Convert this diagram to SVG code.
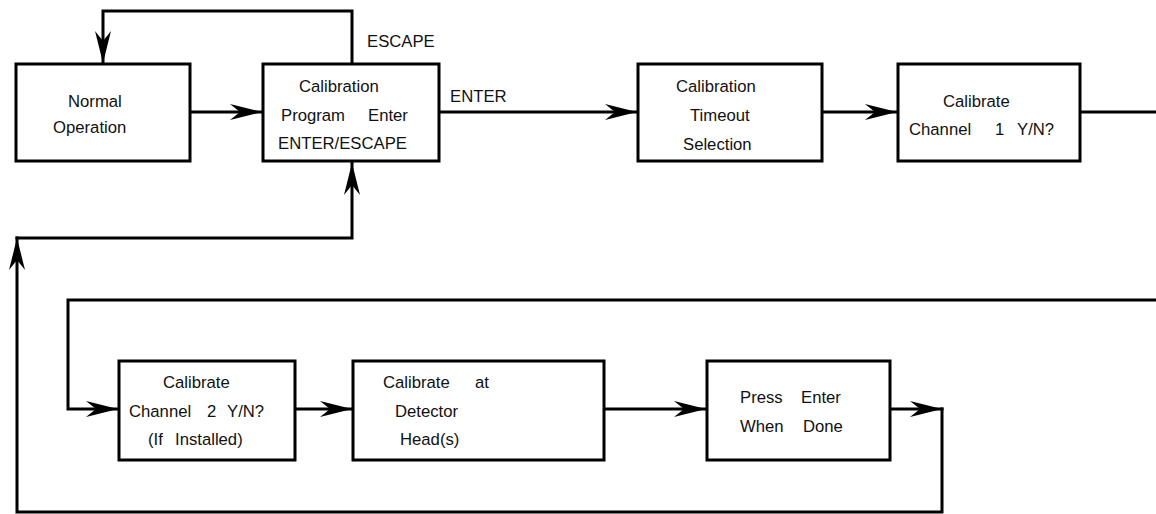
<svg xmlns="http://www.w3.org/2000/svg" width="1156" height="514" viewBox="0 0 1156 514">
<style>
.box{fill:#fff;stroke:#000;stroke-width:3}
.ln{fill:none;stroke:#000;stroke-width:3;stroke-linejoin:miter;stroke-linecap:square}
.t{font-family:"Liberation Sans",Arial,sans-serif;font-size:16.7px;fill:#111}
</style>
<defs>
<marker id="ah" markerUnits="userSpaceOnUse" viewBox="-34 -10 35 20" markerWidth="35" markerHeight="20" refX="0" refY="0" orient="auto">
<path d="M0,0 L-32,-8 L-22,0 L-32,8 Z" fill="#000"/>
</marker>
</defs>
<rect width="1156" height="514" fill="#fff"/>
<g id="connectors">
<path class="ln" d="M190,112 H262" marker-end="url(#ah)"/>
<path class="ln" d="M352,64 V11 H103 V63" marker-end="url(#ah)"/>
<path class="ln" d="M439,112 H637" marker-end="url(#ah)"/>
<path class="ln" d="M822,112 H897" marker-end="url(#ah)"/>
<path class="ln" d="M1080,112 H1158"/>
<path class="ln" d="M1158,300 H68 V409 H118" marker-end="url(#ah)"/>
<path class="ln" d="M295,409 H352" marker-end="url(#ah)"/>
<path class="ln" d="M604,409 H706" marker-end="url(#ah)"/>
<path class="ln" d="M890,409 H942" marker-end="url(#ah)"/>
<path class="ln" d="M942,409 V512 H17 V238" marker-end="url(#ah)"/>
<path class="ln" d="M17,238 H352 V163" marker-end="url(#ah)"/>
<text class="t" x="367" y="47">ESCAPE</text>
<text class="t" x="450" y="102">ENTER</text>
</g>
<g id="normal">
<rect class="box" x="16" y="64" width="174" height="97"/>
<text class="t" x="68" y="107">Normal</text>
<text class="t" x="53" y="133">Operation</text>
</g>
<g id="calprog">
<rect class="box" x="263" y="64" width="176" height="97"/>
<text class="t" x="299" y="92">Calibration</text>
<text class="t" x="281" y="121">Program</text>
<text class="t" x="368" y="121">Enter</text>
<text class="t" x="278" y="149">ENTER/ESCAPE</text>
</g>
<g id="timeout">
<rect class="box" x="638" y="64" width="184" height="97"/>
<text class="t" x="676" y="92">Calibration</text>
<text class="t" x="690" y="121">Timeout</text>
<text class="t" x="683" y="150">Selection</text>
</g>
<g id="ch1">
<rect class="box" x="898" y="64" width="182" height="97"/>
<text class="t" x="943" y="107">Calibrate</text>
<text class="t" x="909" y="135">Channel</text>
<text class="t" x="995" y="135">1</text>
<text class="t" x="1017" y="135">Y/N?</text>
</g>
<g id="ch2">
<rect class="box" x="119" y="361" width="176" height="99"/>
<text class="t" x="163" y="388">Calibrate</text>
<text class="t" x="129" y="417">Channel</text>
<text class="t" x="207" y="417">2</text>
<text class="t" x="227" y="417">Y/N?</text>
<text class="t" x="148" y="445">(If</text>
<text class="t" x="175" y="445">Installed)</text>
</g>
<g id="detector">
<rect class="box" x="353" y="361" width="251" height="99"/>
<text class="t" x="383" y="388">Calibrate</text>
<text class="t" x="475" y="388">at</text>
<text class="t" x="395" y="417">Detector</text>
<text class="t" x="400" y="445">Head(s)</text>
</g>
<g id="press">
<rect class="box" x="707" y="361" width="183" height="99"/>
<text class="t" x="740" y="403">Press</text>
<text class="t" x="801" y="403">Enter</text>
<text class="t" x="740" y="432">When</text>
<text class="t" x="803" y="432">Done</text>
</g>
</svg>
